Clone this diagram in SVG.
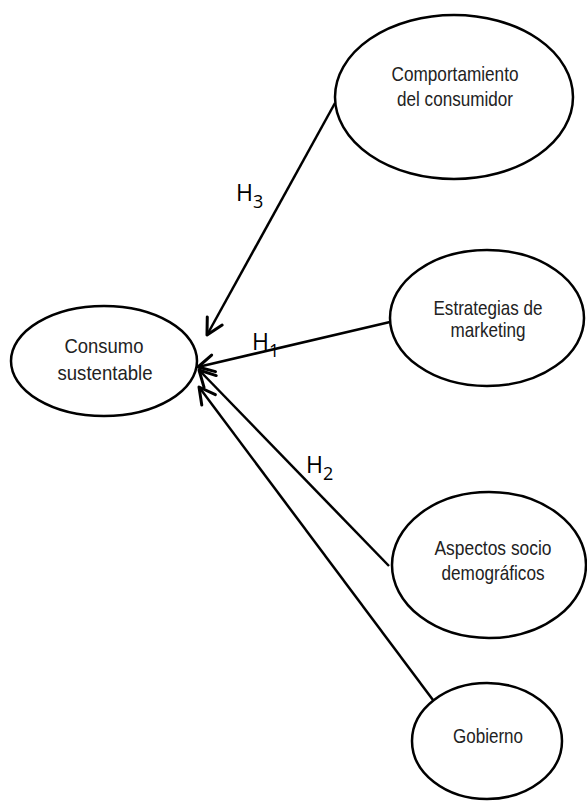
<svg xmlns="http://www.w3.org/2000/svg" width="587" height="801" viewBox="0 0 587 801">
<style>
.node ellipse{fill:#fff;stroke:#000;stroke-width:2.5}
.node text{font-family:"Liberation Sans",Arial,sans-serif;font-size:21px;fill:#222;text-anchor:middle}
.conn line{stroke:#000;stroke-width:2.5;marker-end:url(#arr)}
.lbl{font-family:"Open Sans","DejaVu Sans",sans-serif;font-size:23px;fill:#000}
.sub{font-size:18px}
</style>
<defs>
<marker id="arr" markerUnits="userSpaceOnUse" markerWidth="24" markerHeight="24" refX="19" refY="10" orient="auto" overflow="visible">
<path d="M3,1.5 L19,10 L3,18.5" fill="none" stroke="#000" stroke-width="3" stroke-linecap="round" stroke-linejoin="round"/>
</marker>
</defs>
<rect width="587" height="801" fill="#fff"/>
<g class="conn" id="connectors">
<line x1="335" y1="103" x2="207" y2="335"/>
<line x1="390" y1="322" x2="198" y2="367"/>
<line x1="389" y1="566" x2="199" y2="370"/>
<line x1="433" y1="700" x2="199" y2="387"/>
</g>
<g id="node-consumo" class="node">
<ellipse cx="104" cy="361" rx="93" ry="55"/>
<text x="104" y="353" textLength="79" lengthAdjust="spacingAndGlyphs">Consumo</text>
<text x="105" y="380" textLength="95" lengthAdjust="spacingAndGlyphs">sustentable</text>
</g>
<g id="node-comportamiento" class="node">
<ellipse cx="454" cy="97" rx="119" ry="82"/>
<text x="455" y="81" textLength="127" lengthAdjust="spacingAndGlyphs">Comportamiento</text>
<text x="455" y="106" textLength="116" lengthAdjust="spacingAndGlyphs">del consumidor</text>
</g>
<g id="node-estrategias" class="node">
<ellipse cx="487" cy="318" rx="97" ry="68"/>
<text x="488" y="315" textLength="109" lengthAdjust="spacingAndGlyphs">Estrategias de</text>
<text x="488" y="337" textLength="75" lengthAdjust="spacingAndGlyphs">marketing</text>
</g>
<g id="node-aspectos" class="node">
<ellipse cx="489" cy="565" rx="97" ry="73"/>
<text x="493" y="555" textLength="117" lengthAdjust="spacingAndGlyphs">Aspectos socio</text>
<text x="493" y="580" textLength="103" lengthAdjust="spacingAndGlyphs">demográficos</text>
</g>
<g id="node-gobierno" class="node">
<ellipse cx="487" cy="741" rx="75" ry="58"/>
<text x="488" y="743" textLength="70" lengthAdjust="spacingAndGlyphs">Gobierno</text>
</g>
<g id="labels">
<text class="lbl" x="236" y="201">H<tspan class="sub" dy="7">3</tspan></text>
<text class="lbl" x="252" y="350">H<tspan class="sub" dy="7">1</tspan></text>
<text class="lbl" x="306" y="473">H<tspan class="sub" dy="7">2</tspan></text>
</g>
</svg>
